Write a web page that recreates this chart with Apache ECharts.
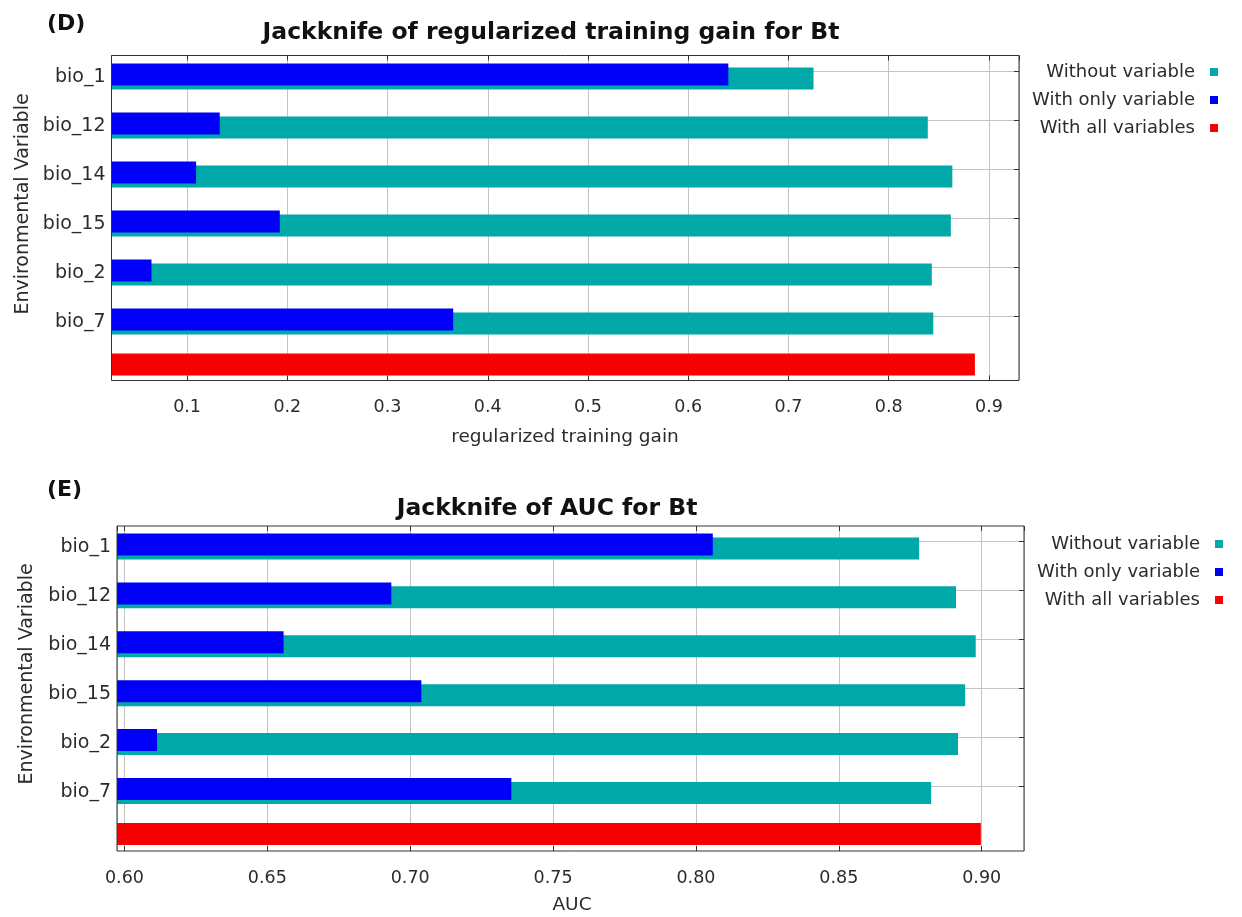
<!DOCTYPE html>
<html>
<head>
<meta charset="utf-8">
<script src="https://cdn.jsdelivr.net/npm/echarts@6/dist/echarts.min.js"></script>
<style>
  html, body { margin: 0; padding: 0; background: #ffffff; }
  #chart { width: 1242px; height: 917px; }
</style>
</head>
<body>
<div id="chart"></div>
<script>
// Jackknife tests of variable importance for Bt (MaxEnt output)
const variables = ['bio_1', 'bio_12', 'bio_14', 'bio_15', 'bio_2', 'bio_7'];

// Regularized training gain
const gainWithout = [0.725, 0.839, 0.8635, 0.862, 0.843, 0.8445];
const gainOnly    = [0.640, 0.1326, 0.109, 0.1925, 0.0645, 0.3655];
const gainAll     = 0.886;

// AUC
const aucWithout = [0.8781, 0.8910, 0.8979, 0.8942, 0.8917, 0.8823];
const aucOnly    = [0.8059, 0.6934, 0.6557, 0.7039, 0.6114, 0.7354];
const aucAll     = 0.8997;

const NAME_WITHOUT = 'Without variable';
const NAME_ONLY = 'With only variable';
const NAME_ALL = 'With all variables';
const legendNames = [NAME_WITHOUT, NAME_ONLY, NAME_ALL];

const COLOR_WITHOUT = '#00A8A8';
const COLOR_ONLY = '#0000F8';
const COLOR_ALL = '#F80000';
const FONT = '"DejaVu Sans", "Liberation Sans", Arial, sans-serif';
const TEXT = '#2b2b2b';
const GRID_LINE = '#c4c4c4';
const FRAME = '#333333';

// Layout of the two panels
const panels = [
  {
    letter: '(D)', title: 'Jackknife of regularized training gain for Bt',
    xName: 'regularized training gain',
    without: gainWithout, only: gainOnly, all: gainAll,
    xMin: 0.0246, xMax: 0.930, splitNumber: 9, decimals: 1,
    frame: { left: 111.5, top: 55.5, width: 907.5, height: 325 },
    firstTick: 71.7, band: 49,
    letterPos: [47, 24], titlePos: [551, 33], xNamePos: [565, 437], yNamePos: [23, 204],
    legendTop: 63, legendRight: 24
  },
  {
    letter: '(E)', title: 'Jackknife of AUC for Bt',
    xName: 'AUC',
    without: aucWithout, only: aucOnly, all: aucAll,
    xMin: 0.5974, xMax: 0.9148, splitNumber: 6, decimals: 2,
    frame: { left: 117, top: 526, width: 907, height: 325 },
    firstTick: 541.7, band: 48.9,
    letterPos: [47, 490], titlePos: [547, 509], xNamePos: [572, 905], yNamePos: [27, 674],
    legendTop: 535, legendRight: 19
  }
];

const BAR_WIDTH = 22;
const BAR_GAP = '-82%';
const GROUP_SHIFT = 2.8;   // bar group sits a little below its gridline

const option = {
  animation: false,
  backgroundColor: '#ffffff',
  grid: [], xAxis: [], yAxis: [], series: [], legend: [], graphic: []
};

panels.forEach(function (p) {
  const f = p.frame;
  const nCat = variables.length;

  // frame grid: border, x ticks, labels and vertical gridlines
  const gFrame = option.grid.length;
  option.grid.push({
    left: f.left, top: f.top, width: f.width, height: f.height,
    show: true, borderColor: FRAME, borderWidth: 1, backgroundColor: 'transparent',
    z: 10, containLabel: false, outerBoundsMode: 'none'
  });
  // gridline grid: one horizontal line / right tick per variable
  const gTick = option.grid.length;
  option.grid.push({
    left: f.left, top: p.firstTick, width: f.width, height: p.band * (nCat - 1),
    containLabel: false, outerBoundsMode: 'none'
  });
  // bar grid: one band per variable plus the "all variables" band
  const gBar = option.grid.length;
  option.grid.push({
    left: f.left, top: p.firstTick + GROUP_SHIFT - p.band / 2, width: f.width,
    height: p.band * (nCat + 1),
    containLabel: false, outerBoundsMode: 'none'
  });

  const fmt = function (v) { return v.toFixed(p.decimals); };

  // bottom x axis
  option.xAxis.push({
    type: 'value', gridIndex: gFrame, position: 'bottom',
    min: p.xMin, max: p.xMax, splitNumber: p.splitNumber,
    axisLine: { show: false },
    axisTick: { show: true, inside: true, length: 5, lineStyle: { color: FRAME, width: 1 } },
    axisLabel: {
      show: true, formatter: fmt, showMinLabel: false, showMaxLabel: false,
      margin: 18, fontSize: 17.5, fontFamily: FONT, color: TEXT
    },
    splitLine: { show: true, lineStyle: { color: GRID_LINE, width: 1 } }
  });
  // top x axis (ticks only)
  option.xAxis.push({
    type: 'value', gridIndex: gFrame, position: 'top',
    min: p.xMin, max: p.xMax, splitNumber: p.splitNumber,
    axisLine: { show: false },
    axisTick: { show: true, inside: true, length: 5, lineStyle: { color: FRAME, width: 1 } },
    axisLabel: { show: false },
    splitLine: { show: false }
  });
  option.xAxis.push({
    type: 'value', gridIndex: gTick, min: p.xMin, max: p.xMax, show: false
  });
  const xBar = option.xAxis.length;
  option.xAxis.push({
    type: 'value', gridIndex: gBar, min: p.xMin, max: p.xMax, startValue: p.xMin, show: false
  });

  option.yAxis.push({ type: 'value', gridIndex: gFrame, min: 0, max: 1, show: false });
  option.yAxis.push({
    type: 'category', gridIndex: gTick, data: variables, inverse: true, boundaryGap: false,
    position: 'right',
    axisLine: { show: false },
    axisTick: { show: true, inside: true, length: 5, interval: 0, lineStyle: { color: FRAME, width: 1 } },
    axisLabel: { show: false },
    splitLine: { show: true, interval: 0, lineStyle: { color: GRID_LINE, width: 1 } }
  });
  option.yAxis.push({
    type: 'category', gridIndex: gBar, data: variables.concat(['']), inverse: true,
    position: 'left',
    axisLine: { show: false },
    axisTick: { show: false },
    axisLabel: {
      show: true, interval: 0, margin: 6, fontSize: 19, fontFamily: FONT, color: TEXT,
      verticalAlign: 'top', lineHeight: 6
    },
    splitLine: { show: false }
  });
  const yBar = option.yAxis.length - 1;

  const empty = variables.map(function () { return '-'; });
  const barCommon = {
    type: 'bar', xAxisIndex: xBar, yAxisIndex: yBar,
    barWidth: BAR_WIDTH, barGap: BAR_GAP, clip: true, silent: true
  };
  option.series.push(Object.assign({}, barCommon, {
    name: NAME_ALL, data: empty.concat([p.all]), itemStyle: { color: COLOR_ALL }, z: 2
  }));
  option.series.push(Object.assign({}, barCommon, {
    name: NAME_ONLY, data: p.only.concat(['-']), itemStyle: { color: COLOR_ONLY }, z: 3
  }));
  option.series.push(Object.assign({}, barCommon, {
    name: NAME_WITHOUT, data: p.without.concat(['-']), itemStyle: { color: COLOR_WITHOUT }, z: 2
  }));

  option.legend.push({
    data: legendNames, orient: 'vertical', align: 'right',
    right: p.legendRight, top: p.legendTop, padding: 0,
    icon: 'rect', itemWidth: 8, itemHeight: 8, itemGap: 10,
    selectedMode: false,
    textStyle: { fontSize: 18, fontFamily: FONT, color: TEXT, lineHeight: 18, padding: [0, 10, 0, 0] }
  });

  option.graphic.push(
    { type: 'text', x: p.letterPos[0], y: p.letterPos[1], silent: true,
      style: { text: p.letter, fontSize: 22, fontWeight: 'bold', fontFamily: FONT, fill: '#111111',
               align: 'left', verticalAlign: 'middle' } },
    { type: 'text', x: p.titlePos[0], y: p.titlePos[1], silent: true,
      style: { text: p.title, fontSize: 23.5, fontWeight: 'bold', fontFamily: FONT, fill: '#111111',
               align: 'center', verticalAlign: 'middle' } },
    { type: 'text', x: p.xNamePos[0], y: p.xNamePos[1], silent: true,
      style: { text: p.xName, fontSize: 18.5, fontFamily: FONT, fill: TEXT,
               align: 'center', verticalAlign: 'middle' } },
    { type: 'text', x: p.yNamePos[0], y: p.yNamePos[1], rotation: Math.PI / 2, silent: true,
      style: { text: 'Environmental Variable', fontSize: 19, fontFamily: FONT, fill: TEXT,
               align: 'center', verticalAlign: 'middle' } }
  );
});

const chart = echarts.init(document.getElementById('chart'), null, { renderer: 'canvas' });
chart.setOption(option);
</script>
</body>
</html>
